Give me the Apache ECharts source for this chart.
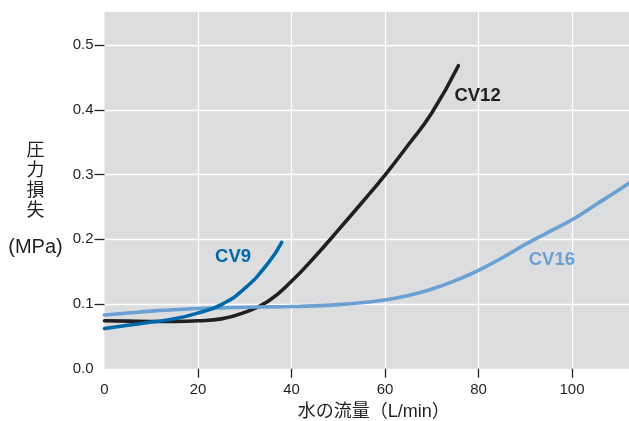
<!DOCTYPE html>
<html>
<head>
<meta charset="utf-8">
<script src="https://cdn.jsdelivr.net/npm/echarts@6/dist/echarts.min.js"></script>
<style>
  html, body { margin: 0; padding: 0; background: #ffffff; }
  #chart { width: 629px; height: 421px; }
</style>
</head>
<body>
<div id="chart"></div>
<script>
// Flow rate (L/min) vs. pressure loss (MPa) for three valve sizes
const cv9Flow  = [0, 5, 10, 15, 20, 25, 30, 35, 37.9];
const cv9Loss  = [0.062, 0.067, 0.072, 0.077, 0.086, 0.099, 0.124, 0.163, 0.195];

const cv12Flow = [0, 5, 10, 15, 20, 25, 30, 35, 40, 45, 50, 55, 60, 65, 70, 75.7];
const cv12Loss = [0.074, 0.0735, 0.073, 0.073, 0.074, 0.077, 0.087, 0.104, 0.135, 0.173, 0.214, 0.256, 0.299, 0.346, 0.395, 0.468];

const cv16Flow = [0, 5, 10, 15, 20, 25, 30, 35, 40, 45, 50, 55, 60, 65, 70, 75, 80, 85, 90, 95, 100, 105, 110, 112.2];
const cv16Loss = [0.083, 0.086, 0.089, 0.091, 0.093, 0.094, 0.095, 0.0955, 0.096, 0.097, 0.099, 0.102, 0.106, 0.113, 0.123, 0.136, 0.152, 0.171, 0.192, 0.211, 0.230, 0.253, 0.276, 0.287];

const labelSpots  = { CV9: [27.5, 0.173], CV12: [79.8, 0.421], CV16: [95.7, 0.168] };

const xTicks = [0, 20, 40, 60, 80, 100];
const yTicks = [0.0, 0.1, 0.2, 0.3, 0.4, 0.5];

const ink = '#231f20';
const colors = { CV9: '#0068a9', CV12: '#231f20', CV16: '#6aa0d2' };
const latin = "'Liberation Sans', Arial, 'Noto Sans CJK JP', sans-serif";

function pairs(xs, ys) { return xs.map((x, i) => [x, ys[i]]); }

function curve(name, xs, ys) {
  return {
    name: name,
    type: 'line',
    data: pairs(xs, ys),
    smooth: 0.5,
    showSymbol: false,
    symbol: 'none',
    lineStyle: { color: colors[name], width: 3.6, cap: 'round' },
    itemStyle: { color: colors[name] },
    markPoint: {
      symbol: 'circle',
      symbolSize: 1,
      itemStyle: { color: 'rgba(0,0,0,0)' },
      label: {
        show: true, position: 'inside', formatter: name,
        color: colors[name], fontFamily: latin, fontWeight: 'bold', fontSize: 18.5
      },
      data: [{ coord: labelSpots[name] }]
    }
  };
}

const chart = echarts.init(document.getElementById('chart'), null, { renderer: 'canvas' });
chart.setOption({
  animation: false,
  backgroundColor: '#ffffff',
  grid: {
    left: 104.5, right: 0, top: 12, bottom: 52.3,
    outerBoundsMode: 'none', containLabel: false,
    show: true, backgroundColor: '#dcdddf', borderWidth: 0
  },
  xAxis: {
    type: 'value', min: 0, max: 112.2, interval: 20,
    name: '水の流量（L/min）',
    nameLocation: 'middle', nameGap: 29,
    nameTextStyle: { fontFamily: latin, fontSize: 18, color: ink, padding: [0, 0, 0, 14] },
    axisLine: { show: false },
    axisTick: { show: true, length: 9, customValues: xTicks.slice(1), lineStyle: { color: ink, width: 1.3 } },
    axisLabel: { customValues: xTicks, margin: 14, fontFamily: latin, fontSize: 15, color: ink },
    splitLine: { show: true, lineStyle: { color: '#ffffff', width: 1.3 } }
  },
  yAxis: {
    type: 'value', min: 0, max: 0.551, interval: 0.1,
    name: '{c|圧}\n{c|力}\n{c|損}\n{c|失}\n{u|(MPa)}',
    nameLocation: 'middle', nameRotate: 0, nameGap: 69,
    nameTextStyle: {
      align: 'center', verticalAlign: 'middle', padding: [34, 0, 0, 0],
      rich: {
        c: { fontFamily: "'Noto Sans CJK JP', sans-serif", fontSize: 18, lineHeight: 20, color: ink, align: 'center' },
        u: { fontFamily: latin, fontSize: 20, lineHeight: 56, color: ink, align: 'center' }
      }
    },
    axisLine: { show: false },
    axisTick: { show: true, length: 10, customValues: yTicks.slice(1), lineStyle: { color: ink, width: 1.3 } },
    axisLabel: {
      customValues: yTicks, margin: 11, fontFamily: latin, fontSize: 15, color: ink,
      formatter: v => v.toFixed(1)
    },
    splitLine: { show: true, lineStyle: { color: '#ffffff', width: 1.3 } }
  },
  series: [
    curve('CV12', cv12Flow, cv12Loss),
    curve('CV16', cv16Flow, cv16Loss),
    curve('CV9', cv9Flow, cv9Loss)
  ]
});
</script>
</body>
</html>
